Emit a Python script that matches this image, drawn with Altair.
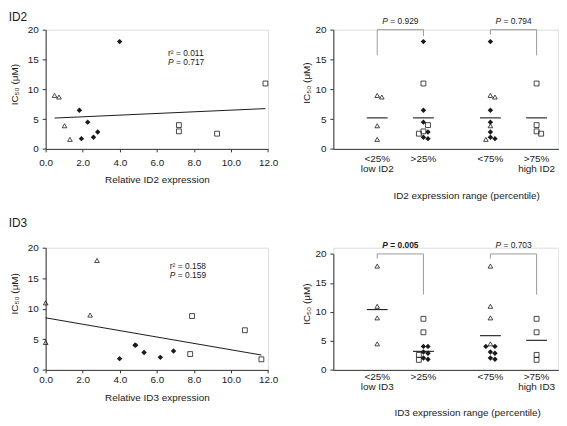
import altair as alt
import pandas as pd

FONT = "Liberation Sans"
INK = "#1a1a1a"
AX = "#333333"
BR_COL = "#9a9a9a"

# ---------------- data ----------------
# ID2 scatter: triangles = low ID2, diamonds = middle, squares = high ID2
id2_tri_x = [0.48, 0.72, 1.02, 1.31]
id2_tri_y = [8.97, 8.70, 3.88, 1.60]
id2_dia_x = [1.82, 1.93, 2.27, 2.58, 2.81, 3.99]
id2_dia_y = [6.48, 1.72, 4.49, 1.94, 2.83, 18.0]
id2_sq_x = [7.19, 7.19, 9.25, 11.86]
id2_sq_y = [3.99, 2.94, 2.55, 10.97]

# ID3 scatter
id3_tri_x = [0.0, 0.0, 2.40, 2.77]
id3_tri_y = [10.97, 4.49, 8.97, 17.9]
id3_dia_x = [3.99, 4.82, 4.86, 5.31, 6.19, 6.90]
id3_dia_y = [1.84, 4.05, 4.05, 2.86, 2.05, 3.08]
id3_sq_x = [7.90, 7.80, 10.75, 11.64]
id3_sq_y = [8.81, 2.59, 6.49, 1.73]

stats_r2 = ["0.011", "0.158"]
stats_p = ["0.717", "0.159"]
stats_pos = [(6.6, 15.5, 14.0), (6.7, 16.5, 15.0)]

x_ticks = [0, 2, 4, 6, 8, 10, 12]
y_ticks = [0, 5, 10, 15, 20]

cats = ["<25%", ">25%", "<75%", ">75%"]
cat_sub_id2 = ["low ID2", "", "", "high ID2"]
cat_sub_id3 = ["low ID3", "", "", "high ID3"]
means_id2 = [5.2, 5.2, 5.2, 5.2]
means_id3 = [10.4, 3.2, 5.9, 5.1]
bracket_p_id2 = ["0.929", "0.794"]
bracket_p_id3 = ["0.005", "0.703"]
bracket_bold_id2 = [False, False]
bracket_bold_id3 = [True, False]
bracket_legs_id2 = [(15.7, 18.9), (19.2, 15.7)]
bracket_legs_id3 = [(19.2, 13.0), (19.2, 13.0)]

# ---------------- layout constants ----------------
CAT_POS = [0.95, 1.95, 3.40, 4.40]
STRIP_DOMAIN = [0, 4.87]
ROW1_H = 120.3
ROW2_H = 123.3
SMALL_P = 8.5
P_W = 5.7      # width of italic "P" at SMALL_P
SP_W = 2.4     # width of a space at SMALL_P


def ax(**kw):
    base = dict(grid=False, domainColor=AX, tickColor=AX, labelColor=INK,
                titleColor=INK, labelFont=FONT, titleFont=FONT, labelFontSize=10,
                titleFontSize=10, titleFontWeight="normal", domainWidth=1,
                tickWidth=1, labelFlush=False, labelOverlap=False)
    base.update(kw)
    return alt.Axis(**base)


def y_axis(tx, ty):
    return ax(values=y_ticks, tickCount=len(y_ticks), tickSize=3.5, labelPadding=4,
              title="IC₅₀ (μM)", titleX=tx, titleY=ty, titleBaseline="alphabetic",
              titleAngle=-90)


def point_layers(base):
    tri = base.transform_filter("datum.kind == 'tri'").mark_point(
        shape="triangle-up", filled=False, color=INK, strokeWidth=0.8, size=22, opacity=1)
    dia = base.transform_filter("datum.kind == 'dia'").mark_point(
        shape="diamond", filled=True, color=INK, size=30, opacity=1)
    sq = base.transform_filter("datum.kind == 'sq'").mark_point(
        shape="square", filled=False, color=INK, strokeWidth=0.8, size=24, opacity=1)
    return [tri, dia, sq]


def scatter_panel(gene, tx, ty, dxs, dys, sx, sy, r2, p, spos, W, H,
                  lab_pad, xt_y, yt_x, yt_y, head_y):
    df = pd.DataFrame({
        "x": tx + dxs + sx,
        "y": ty + dys + sy,
        "kind": ["tri"] * len(tx) + ["dia"] * len(dxs) + ["sq"] * len(sx),
    })
    xs = alt.Scale(domain=[0, 12], nice=False, zero=False)
    ys = alt.Scale(domain=[0, 20], nice=False)
    X = alt.X("x:Q", scale=xs, axis=ax(values=x_ticks, tickCount=len(x_ticks),
                                      format=".1f", tickSize=3, labelPadding=lab_pad,
                                      title=f"Relative {gene} expression",
                                      titleY=xt_y, titleBaseline="alphabetic"))
    Y = alt.Y("y:Q", scale=ys, axis=y_axis(yt_x, yt_y))
    base = alt.Chart(df).encode(x=X, y=Y)
    reg = alt.Chart(df).transform_regression("x", "y").mark_line(
        color=INK, strokeWidth=1).encode(x=X, y=Y)

    r2_df = pd.DataFrame({"x": [spos[0]], "y": [spos[1]], "t": [f"r² = {r2}"]})
    p_df = pd.DataFrame({"x": [spos[0]], "y": [spos[2]], "pp": ["P"], "pv": [f"= {p}"]})
    t_r2 = alt.Chart(r2_df).mark_text(align="left", baseline="alphabetic", font=FONT,
                                      fontSize=SMALL_P, color=INK).encode(
        x=X, y=Y, text="t:N")
    t_p = alt.Chart(p_df).mark_text(align="left", baseline="alphabetic", font=FONT,
                                    fontSize=SMALL_P, fontStyle="italic", color=INK).encode(
        x=X, y=Y, text="pp:N")
    t_pv = alt.Chart(p_df).mark_text(align="left", baseline="alphabetic", font=FONT,
                                     fontSize=SMALL_P, dx=P_W + SP_W, color=INK).encode(
        x=X, y=Y, text="pv:N")
    head = alt.Chart(pd.DataFrame({"t": [gene]})).mark_text(
        align="left", baseline="alphabetic", font=FONT, fontSize=12, color=INK).encode(
        x=alt.value(-37.3), y=alt.value(head_y), text="t:N")
    return alt.layer(reg, *point_layers(base), t_r2, t_p, t_pv, head).properties(
        width=W, height=H)


def swarm(vals, px_y, px_x, step_px=4.6, min_d=3.6):
    order = sorted(range(len(vals)), key=lambda i: -vals[i])
    placed = []
    off = [0.0] * len(vals)
    for i in order:
        ypx = vals[i] * px_y
        xpx = 0.0
        for k in [0, 1, -1, 2, -2, 3, -3]:
            xpx = k * step_px
            if all((xpx - qx) ** 2 + (ypx - qy) ** 2 >= min_d ** 2 for qy, qx in placed):
                break
        placed.append((ypx, xpx))
        off[i] = xpx / px_x
    return off


def strip_panel(gene, tri_y, dia_y, sq_y, subs, means, bp, bbold, legs, W, H, top,
                cat_y, xt_x, xt_y, yt_x, yt_y):
    px_x = W / (STRIP_DOMAIN[1] - STRIP_DOMAIN[0])
    px_y = (H - top) / 20.0
    groups = [
        (tri_y, ["tri"] * len(tri_y)),
        (dia_y + sq_y, ["dia"] * len(dia_y) + ["sq"] * len(sq_y)),
        (tri_y + dia_y, ["tri"] * len(tri_y) + ["dia"] * len(dia_y)),
        (sq_y, ["sq"] * len(sq_y)),
    ]
    rows = []
    for gi, (vals, kinds) in enumerate(groups):
        offs = swarm(vals, px_y, px_x)
        for v, k, o in zip(vals, kinds, offs):
            rows.append({"x": CAT_POS[gi] + o, "y": v, "kind": k})
    df = pd.DataFrame(rows)
    xs = alt.Scale(domain=STRIP_DOMAIN, nice=False, zero=False)
    ys = alt.Scale(domain=[0, 20], nice=False, range=[H, top])
    X = alt.X("x:Q", scale=xs, axis=ax(labels=False, ticks=False,
                                      title=f"{gene} expression range (percentile)",
                                      titleX=xt_x, titleY=xt_y, titleBaseline="alphabetic"))
    Y = alt.Y("y:Q", scale=ys, axis=y_axis(yt_x, yt_y))
    base = alt.Chart(df).encode(x=X, y=Y)

    hw = 10.5 / px_x
    mdf = pd.DataFrame({"x": [c - hw for c in CAT_POS], "x2": [c + hw for c in CAT_POS],
                        "y": means})
    mean_rule = alt.Chart(mdf).mark_rule(color=INK, strokeWidth=1.1).encode(
        x=X, x2="x2:Q", y=Y)

    segs = []
    txt = []
    for bi, (a, b) in enumerate([(0, 1), (2, 3)]):
        xa, xb = CAT_POS[a], CAT_POS[b]
        la, lb = legs[bi]
        segs.append({"x": xa, "x2": xb, "y": 20.0, "y2": 20.0})
        segs.append({"x": xa, "x2": xa, "y": 20.0, "y2": la})
        segs.append({"x": xb, "x2": xb, "y": 20.0, "y2": lb})
        txt.append({"x": (xa + xb) / 2, "y": 20.0, "pp": "P", "pv": f"= {bp[bi]}",
                    "bold": bbold[bi]})
    sdf = pd.DataFrame(segs)
    brk = alt.Chart(sdf).mark_rule(color=BR_COL, strokeWidth=1).encode(
        x=X, x2="x2:Q", y=Y, y2="y2:Q")
    tdf = pd.DataFrame(txt)
    tlayers = []
    split = -12.6
    for bold in (False, True):
        sub = alt.Chart(tdf).transform_filter(
            "datum.bold" if bold else "!datum.bold")
        fw = "bold" if bold else "normal"
        tlayers.append(sub.mark_text(align="right", baseline="alphabetic", font=FONT,
                                     fontSize=SMALL_P, fontStyle="italic", fontWeight=fw,
                                     dx=split, dy=-5.5, color=INK).encode(
            x=X, y=Y, text="pp:N"))
        tlayers.append(sub.mark_text(align="left", baseline="alphabetic", font=FONT,
                                     fontSize=SMALL_P, fontWeight=fw,
                                     dx=split + SP_W, dy=-5.5, color=INK).encode(
            x=X, y=Y, text="pv:N"))

    ldf = pd.DataFrame({"x": CAT_POS,
                        "lab": [c + ("\n" + s if s else "") for c, s in zip(cats, subs)]})
    labs = alt.Chart(ldf).mark_text(align="center", baseline="alphabetic", font=FONT,
                                    fontSize=10, lineBreak="\n", lineHeight=10,
                                    color=INK).encode(
        x=X, y=alt.value(H + cat_y), text="lab:N")

    return alt.layer(brk, mean_rule, *point_layers(base), *tlayers, labs).properties(
        width=W, height=H)


TL = scatter_panel("ID2", id2_tri_x, id2_tri_y, id2_dia_x, id2_dia_y, id2_sq_x, id2_sq_y,
                   stats_r2[0], stats_p[0], stats_pos[0], 224.4, ROW1_H,
                   lab_pad=6, xt_y=33.7, yt_x=-28, yt_y=55, head_y=-9)
BL = scatter_panel("ID3", id3_tri_x, id3_tri_y, id3_dia_x, id3_dia_y, id3_sq_x, id3_sq_y,
                   stats_r2[1], stats_p[1], stats_pos[1], 224.4, ROW2_H,
                   lab_pad=2, xt_y=30.7, yt_x=-28, yt_y=46, head_y=-21)
TR = strip_panel("ID2", id2_tri_y, id2_dia_y, id2_sq_y, cat_sub_id2, means_id2,
                 bracket_p_id2, bracket_bold_id2, bracket_legs_id2, 227, ROW1_H, 0,
                 cat_y=13.5, xt_x=134, xt_y=50.3, yt_x=-24.5, yt_y=53.3)
BR = strip_panel("ID3", id3_tri_y, id3_dia_y, id3_sq_y, cat_sub_id3, means_id3,
                 bracket_p_id3, bracket_bold_id3, bracket_legs_id3, 227, ROW2_H, 6.3,
                 cat_y=10.5, xt_x=135, xt_y=46, yt_x=-24.5, yt_y=56.5)

chart = alt.concat(TL, TR, BL, BR, columns=2,
                   spacing=alt.RowColnumber(row=99, column=65.3),
                   bounds="flush", padding=0).configure_view(
    stroke=None).configure(font=FONT)

chart.save("out.html", embed_options={"renderer": "svg", "actions": False})
